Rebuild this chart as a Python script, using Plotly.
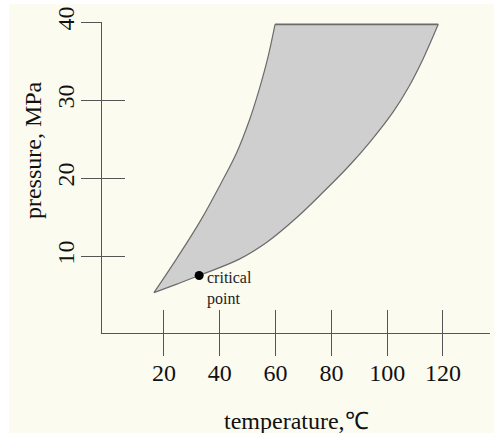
import plotly.graph_objects as go

# Boundary of the shaded region (temperature in degC, pressure in MPa)
temp_left = [16.4, 24.6, 33.2, 40.4, 46.0, 50.6, 54.0, 57.2, 59.8]
pres_left = [5.3, 9.7, 14.6, 19.3, 23.2, 27.4, 31.2, 35.4, 39.7]
temp_right = [16.4, 24.6, 32.6, 47.0, 57.0, 67.5, 77.1, 86.7, 93.8, 102.2, 107.6, 112.9, 118.3]
pres_right = [5.3, 6.4, 7.5, 9.6, 11.8, 14.9, 18.2, 21.7, 24.6, 28.5, 31.6, 35.3, 39.7]

critical_t = [32.6]
critical_p = [7.5]

x_ticks = [20, 40, 60, 80, 100, 120]
y_ticks = [10, 20, 30, 40]

EDGE = "#6b6b6b"
FILL = "#cfcfcf"
AXIS = "#555555"
SERIF = "Liberation Serif, Times New Roman, serif"

fig = go.Figure()

fig.add_trace(go.Scatter(
    x=temp_left, y=pres_left, mode="lines",
    line=dict(color=EDGE, width=1.2, shape="spline", smoothing=1.0),
    hoverinfo="skip", showlegend=False))
fig.add_trace(go.Scatter(
    x=temp_right, y=pres_right, mode="lines", fill="tonexty", fillcolor=FILL,
    line=dict(color=EDGE, width=1.2, shape="spline", smoothing=1.0),
    hoverinfo="skip", showlegend=False))
fig.add_trace(go.Scatter(
    x=[temp_left[-1], temp_right[-1]], y=[pres_left[-1], pres_right[-1]],
    mode="lines", line=dict(color=EDGE, width=1.6),
    hoverinfo="skip", showlegend=False))
fig.add_trace(go.Scatter(
    x=critical_t, y=critical_p, mode="markers",
    marker=dict(color="black", size=9),
    xaxis="x2", yaxis="y2", showlegend=False))

tick_font = dict(family=SERIF, size=24, color="#111111")

fig.update_layout(
    width=494, height=433,
    margin=dict(l=102, r=4, t=22, b=100),
    paper_bgcolor="white",
    plot_bgcolor="rgba(0,0,0,0)",
    xaxis=dict(range=[-2.22, 136.85], showgrid=False, zeroline=False,
               showline=True, linecolor=AXIS, linewidth=1,
               ticks="outside", ticklen=22, tickcolor=AXIS, tickwidth=1,
               tickvals=x_ticks, ticktext=[str(v) for v in x_ticks],
               tickfont=tick_font, ticklabelstandoff=-4),
    xaxis2=dict(overlaying="x", matches="x", anchor="y", side="bottom",
                showgrid=False, zeroline=False, showline=False,
                ticks="inside", ticklen=23, tickcolor=AXIS, tickwidth=1,
                tickvals=x_ticks, showticklabels=False),
    yaxis=dict(range=[0.13, 40], showgrid=False, zeroline=False,
               showline=True, linecolor=AXIS, linewidth=1,
               ticks="outside", ticklen=20, tickcolor=AXIS, tickwidth=1,
               tickvals=y_ticks, ticktext=[str(v) for v in y_ticks],
               tickangle=-90, tickfont=tick_font, ticklabelstandoff=-3),
    yaxis2=dict(overlaying="y", matches="y", anchor="x", side="left",
                showgrid=False, zeroline=False, showline=False,
                ticks="inside", ticklen=23, tickcolor=AXIS, tickwidth=1,
                tickvals=y_ticks, showticklabels=False),
    shapes=[dict(type="rect", xref="paper", yref="paper",
                 x0=-0.2397, x1=1.02, y0=-0.33, y1=1.058,
                 fillcolor="#fcfbf0", line=dict(width=0), layer="below")],
    annotations=[
        dict(text="critical<br>point", x=critical_t[0], y=critical_p[0],
             xref="x", yref="y", xanchor="left", yanchor="top", align="left",
             xshift=6, yshift=9, showarrow=False,
             font=dict(family=SERIF, size=16, color="#222222")),
        dict(text="temperature,℃", x=0.5, y=-0.283, xref="paper", yref="paper",
             xanchor="center", yanchor="middle", showarrow=False,
             font=dict(family=SERIF, size=24, color="#111111")),
        dict(text="pressure, MPa", x=-0.178, y=0.588, xref="paper", yref="paper",
             xanchor="center", yanchor="middle", textangle=-90, showarrow=False,
             font=dict(family=SERIF, size=24, color="#111111")),
    ],
)

fig.write_html("out.html")
